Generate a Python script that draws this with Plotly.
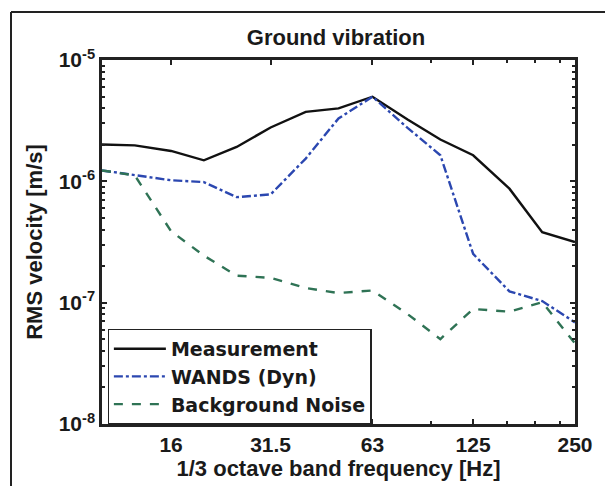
import plotly.graph_objects as go

# 1/3 octave band centre frequencies [Hz]
freq = [10, 12.5, 16, 20, 25, 31.5, 40, 50, 63, 80, 100, 125, 160, 200, 250]

# RMS velocity [m/s]
measurement = [2.01e-6, 1.98e-6, 1.78e-6, 1.49e-6, 1.92e-6, 2.78e-6, 3.74e-6, 3.99e-6,
               4.98e-6, 3.23e-6, 2.21e-6, 1.64e-6, 8.7e-7, 3.81e-7, 3.16e-7]
wands_dyn = [1.23e-6, 1.12e-6, 1.02e-6, 9.86e-7, 7.41e-7, 7.8e-7, 1.54e-6, 3.3e-6,
             4.98e-6, 2.76e-6, 1.64e-6, 2.52e-7, 1.24e-7, 1.03e-7, 6.88e-8]
background = [1.23e-6, 1.12e-6, 3.88e-7, 2.44e-7, 1.67e-7, 1.6e-7, 1.32e-7, 1.2e-7,
              1.26e-7, 8.05e-8, 5.01e-8, 8.87e-8, 8.43e-8, 1.01e-7, 4.61e-8]

x_ticks = [16, 31.5, 63, 125, 250]
x_ticktext = ["16", "31.5", "63", "125", "250"]
x_minor = [94, 157, 190, 225]
y_ticks = [1e-8, 1e-7, 1e-6, 1e-5]
y_ticktext = ["10<sup>-8</sup>", "10<sup>-7</sup>", "10<sup>-6</sup>", "10<sup>-5</sup>"]

FONT = "Liberation Sans"
INK = "#1a1a1a"
tick_font = dict(family=FONT, size=21, color=INK, weight="bold")
label_font = dict(family=FONT, size=22, color=INK, weight="bold")
legend_font = dict(family="DejaVu Sans", size=19, color=INK, weight="bold")

fig = go.Figure()
fig.add_trace(go.Scatter(x=freq, y=measurement, mode="lines", name="Measurement",
                         line=dict(color="#111111", width=2.4)))
fig.add_trace(go.Scatter(x=freq, y=wands_dyn, mode="lines", name="WANDS (Dyn)",
                         line=dict(color="#2b47b0", width=2.4, dash="dashdot")))
fig.add_trace(go.Scatter(x=freq, y=background, mode="lines", name="Background Noise",
                         line=dict(color="#2f7355", width=2.4, dash="dash")))

fig.update_layout(
    width=605, height=486,
    margin=dict(l=102, r=30, t=60, b=62),
    paper_bgcolor="white", plot_bgcolor="white",
    title=dict(text="Ground vibration", x=336 / 605, xanchor="center",
               y=1 - 37 / 486, yanchor="middle",
               font=dict(family=FONT, size=22, color=INK, weight="bold")),
    legend=dict(x=0.012, y=0.262, xanchor="left", yanchor="top",
                bgcolor="white", bordercolor="#222222", borderwidth=1.2,
                font=legend_font, tracegroupgap=0, itemwidth=52),
    showlegend=True,
)

fig.update_xaxes(
    type="log", range=[1, 2.39794],
    tickmode="array", tickvals=x_ticks, ticktext=x_ticktext,
    ticks="inside", ticklen=5, tickwidth=1.5, tickcolor="#222222",
    minor=dict(tickmode="array", tickvals=x_minor, ticks="inside", ticklen=3,
               tickcolor="#222222", showgrid=False),
    showline=True, linecolor="#222222", linewidth=2.5, mirror="ticks",
    showgrid=False, zeroline=False,
    tickfont=tick_font,
    title=dict(text="1/3 octave band frequency [Hz]", font=label_font, standoff=0),
)
fig.update_yaxes(
    type="log", range=[-8, -5],
    tickmode="array", tickvals=y_ticks, ticktext=y_ticktext,
    ticks="inside", ticklen=5, tickwidth=1.5, tickcolor="#222222",
    minor=dict(ticks="inside", ticklen=3, tickcolor="#222222", showgrid=False,
               dtick="D1"),
    showline=True, linecolor="#222222", linewidth=2.5, mirror="ticks",
    showgrid=False, zeroline=False,
    tickfont=tick_font,
    title=dict(text="RMS velocity [m/s]", font=label_font, standoff=10),
)

# Figure border (top and left edges)
fig.add_shape(type="line", xref="paper", yref="paper",
              x0=-91 / 473, x1=503 / 473, y0=1 + 48 / 364, y1=1 + 48 / 364,
              line=dict(color="#222222", width=2))
fig.add_shape(type="line", xref="paper", yref="paper",
              x0=-91 / 473, x1=-91 / 473, y0=1 + 48 / 364, y1=-62 / 364,
              line=dict(color="#222222", width=2))

fig.write_html("out.html")
